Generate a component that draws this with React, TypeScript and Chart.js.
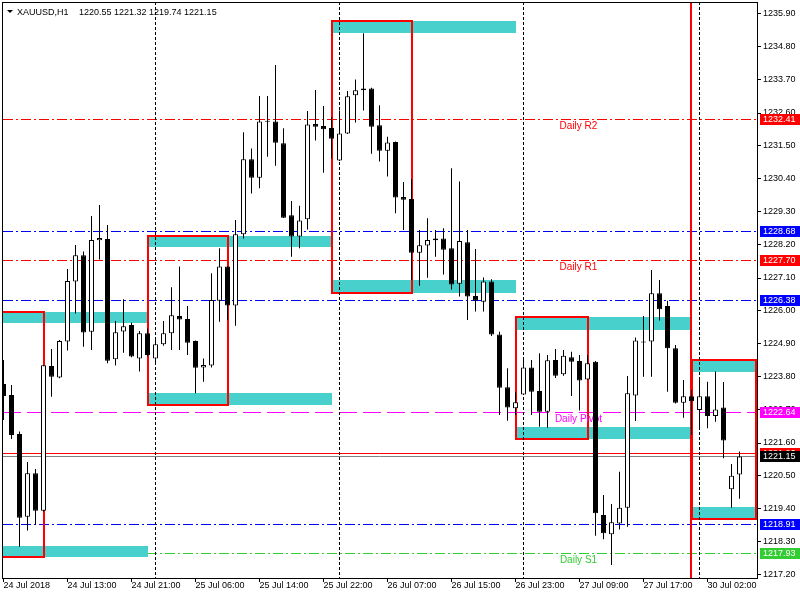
import React, { useEffect, useRef } from 'react';
import { Chart, registerables } from 'chart.js';

Chart.register(...registerables);

const FONT = '"Liberation Sans", Arial, sans-serif';

// ---- candle data (XAUUSD H1) ----
const candleOpen = [
  1223.57, 1223.20, 1221.90, 1219.14, 1220.59, 1219.34, 1224.17, 1223.78, 1224.98, 1226.98,
  1227.86, 1225.31, 1228.36, 1228.40, 1224.39, 1225.32, 1225.53, 1224.42, 1225.26, 1224.42,
  1224.89, 1225.26, 1225.83, 1225.73, 1225.00, 1224.12, 1224.18, 1226.34, 1227.48, 1226.18,
  1228.56, 1231.06, 1230.44, 1232.32, 1232.32, 1231.59, 1229.19, 1228.48, 1229.06, 1232.23,
  1232.17, 1232.10, 1231.02, 1231.92, 1233.19, 1233.36, 1233.42, 1232.19, 1231.34, 1231.63,
  1229.80, 1229.73, 1227.94, 1228.18, 1228.36, 1228.42, 1228.09, 1226.91, 1228.29, 1226.50,
  1226.31, 1226.98, 1225.22, 1223.46, 1222.76, 1223.22, 1224.12, 1223.33, 1222.64, 1224.37,
  1223.89, 1224.46, 1224.33, 1223.72, 1224.31, 1219.20, 1218.56, 1218.92, 1219.44, 1223.18,
  1224.95, 1224.98, 1226.59, 1226.17, 1224.76, 1222.94, 1223.16, 1222.70, 1223.16, 1222.50,
  1222.78, 1220.06, 1220.55,
];
const candleHigh = [
  1224.37, 1223.53, 1221.98, 1220.97, 1220.73, 1224.20, 1224.73, 1225.03, 1227.40, 1228.20,
  1227.98, 1229.17, 1229.53, 1228.87, 1225.67, 1226.39, 1225.61, 1225.33, 1225.42, 1225.09,
  1225.67, 1226.79, 1227.48, 1226.17, 1225.02, 1224.42, 1227.26, 1228.09, 1227.50, 1229.03,
  1231.96, 1231.42, 1233.17, 1233.17, 1234.20, 1232.09, 1229.67, 1229.51, 1232.67, 1233.37,
  1232.83, 1232.46, 1232.68, 1233.33, 1233.72, 1235.26, 1233.44, 1232.86, 1231.81, 1231.65,
  1230.30, 1230.40, 1228.70, 1229.09, 1228.70, 1228.76, 1230.76, 1230.32, 1228.70, 1228.07,
  1227.12, 1227.06, 1225.31, 1224.09, 1223.29, 1224.37, 1224.37, 1224.59, 1224.53, 1224.73,
  1224.70, 1224.64, 1224.53, 1224.53, 1224.33, 1219.87, 1219.57, 1220.64, 1223.83, 1225.12,
  1225.83, 1227.37, 1227.03, 1226.34, 1224.87, 1223.70, 1223.37, 1223.70, 1223.64, 1223.98,
  1223.63, 1220.90, 1221.32,
];
const candleLow = [
  1222.37, 1221.73, 1218.14, 1218.68, 1218.87, 1219.32, 1223.14, 1223.76, 1224.68, 1225.92,
  1224.81, 1224.70, 1227.72, 1224.26, 1224.18, 1224.61, 1224.46, 1223.98, 1224.48, 1224.20,
  1224.84, 1224.70, 1224.70, 1224.53, 1223.26, 1223.64, 1224.12, 1225.64, 1225.70, 1225.51,
  1228.42, 1229.92, 1230.09, 1231.14, 1230.84, 1229.10, 1227.81, 1228.09, 1228.72, 1231.68,
  1230.61, 1231.08, 1231.00, 1231.90, 1232.28, 1232.68, 1231.24, 1230.98, 1230.48, 1229.26,
  1228.70, 1227.03, 1226.84, 1227.11, 1227.81, 1227.22, 1226.72, 1226.48, 1225.70, 1225.98,
  1225.98, 1225.17, 1222.53, 1222.34, 1222.53, 1223.20, 1222.53, 1222.14, 1222.11, 1223.77,
  1223.84, 1223.17, 1222.68, 1223.70, 1218.51, 1218.39, 1217.53, 1218.72, 1218.81, 1222.33,
  1223.81, 1223.81, 1225.68, 1223.31, 1222.92, 1222.44, 1221.87, 1222.09, 1222.09, 1222.31,
  1221.09, 1219.44, 1219.74,
];
const candleClose = [
  1223.17, 1221.87, 1219.11, 1220.59, 1219.34, 1224.19, 1223.81, 1225.00, 1227.00, 1227.86,
  1225.28, 1228.37, 1228.43, 1224.34, 1225.29, 1225.49, 1224.48, 1225.26, 1224.53, 1224.89,
  1225.26, 1225.86, 1225.72, 1224.94, 1224.11, 1224.20, 1226.37, 1227.48, 1226.18, 1228.56,
  1231.06, 1230.44, 1232.32, 1232.31, 1231.61, 1229.11, 1228.48, 1229.02, 1232.22, 1232.14,
  1232.06, 1231.74, 1231.92, 1233.16, 1233.36, 1233.42, 1232.14, 1231.34, 1231.62, 1229.78,
  1229.71, 1227.94, 1228.19, 1228.37, 1228.42, 1228.04, 1226.88, 1228.33, 1226.48, 1226.34,
  1226.98, 1225.22, 1223.44, 1222.78, 1222.96, 1224.12, 1223.31, 1222.64, 1224.36, 1223.84,
  1224.51, 1224.31, 1223.68, 1224.26, 1219.26, 1218.59, 1218.96, 1219.44, 1223.26, 1225.02,
  1224.98, 1226.59, 1226.06, 1224.76, 1222.94, 1223.16, 1222.99, 1223.16, 1222.50, 1222.72,
  1221.68, 1220.51, 1221.15,
];

// ---- axes ----
const xTickIndex = [0, 8, 16, 24, 32, 40, 48, 56, 64, 72, 80, 88];
const xTickLabels = [
  '24 Jul 2018', '24 Jul 13:00', '24 Jul 21:00', '25 Jul 06:00', '25 Jul 14:00', '25 Jul 22:00',
  '26 Jul 07:00', '26 Jul 15:00', '26 Jul 23:00', '27 Jul 09:00', '27 Jul 17:00', '30 Jul 02:00',
];
const yTickValues = [
  1235.9, 1234.8, 1233.7, 1232.6, 1231.5, 1230.4, 1229.3, 1228.2, 1227.1, 1226.0,
  1224.9, 1223.8, 1222.7, 1221.6, 1220.5, 1219.4, 1218.3, 1217.2,
];
const daySeparators = [19, 42, 65, 87];

// ---- pivot levels ----
const levelValues = [1232.41, 1228.68, 1227.7, 1226.38, 1222.64, 1218.91, 1217.93];
const levelNames = ['Daily R2', '', 'Daily R1', '', 'Daily Pivot', '', 'Daily S1'];
const levelColors = ['#ff0000', '#0000ff', '#ff0000', '#0000ff', '#ff00ff', '#0000ff', '#32cd32'];
const levelDashed = [false, false, false, false, true, false, false];
const levelLabelIndex = 71.875;
const askPrice = 1221.26;
const bidPrice = 1221.15;

// ---- supply / demand zones ----
const zoneFrom = [-3, 18, 41, 64, 86];
const zoneBoxTo = [5, 28, 51, 73, 94];
const zoneBandTo = [18, 41, 64, 85.75, 94];
const zoneTop = [1225.97, 1228.5, 1235.67, 1225.79, 1224.37];
const zoneTopInner = [1225.59, 1228.12, 1235.28, 1225.37, 1223.98];
const zoneBottomInner = [1218.17, 1223.26, 1227.03, 1222.14, 1219.46];
const zoneBottom = [1217.79, 1222.87, 1226.61, 1221.74, 1219.08];
const sessionLine = 85.9;

export default function App() {
  const ref = useRef<HTMLCanvasElement>(null);

  useEffect(() => {
    document.body.style.margin = '0';
    const canvas = ref.current;
    if (!canvas) return;

    const overlay = {
      id: 'mt4overlay',
      beforeDraw(chart: any) {
        const ctx = chart.ctx;
        ctx.save();
        ctx.fillStyle = '#ffffff';
        ctx.fillRect(0, 0, chart.width, chart.height);
        ctx.restore();
      },
      beforeDatasetsDraw(chart: any) {
        const ctx = chart.ctx;
        const ca = chart.chartArea;
        const px = (v: number) => chart.scales.x.getPixelForValue(v);
        const py = (v: number) => chart.scales.y.getPixelForValue(v);
        ctx.save();
        ctx.beginPath();
        ctx.rect(ca.left, ca.top, ca.right - ca.left, ca.bottom - ca.top);
        ctx.clip();

        // level lines
        ctx.lineWidth = 1;
        levelValues.forEach((v, k) => {
          const y = Math.round(py(v)) + 0.5;
          ctx.strokeStyle = levelColors[k];
          ctx.setLineDash(levelDashed[k] ? [18, 6] : [10, 3, 2, 3]);
          ctx.beginPath();
          ctx.moveTo(ca.left + 1, y);
          ctx.lineTo(ca.right, y);
          ctx.stroke();
        });
        ctx.setLineDash([]);
        // ask / bid
        [[askPrice, '#ff0000'], [bidPrice, '#808080']].forEach(([v, c]: any) => {
          const y = Math.round(py(v)) + 0.5;
          ctx.strokeStyle = c;
          ctx.beginPath();
          ctx.moveTo(ca.left, y);
          ctx.lineTo(ca.right, y);
          ctx.stroke();
        });

        // cyan bands
        ctx.fillStyle = '#48d1cc';
        zoneFrom.forEach((f, k) => {
          const x1 = Math.round(px(f));
          const x2 = Math.round(px(zoneBandTo[k]));
          const yT = Math.round(py(zoneTop[k]));
          const yTi = Math.round(py(zoneTopInner[k]));
          const yBi = Math.round(py(zoneBottomInner[k]));
          const yB = Math.round(py(zoneBottom[k]));
          ctx.fillRect(x1, yT, x2 - x1, yTi - yT);
          ctx.fillRect(x1, yBi, x2 - x1, yB - yBi);
        });
        // red boxes
        ctx.strokeStyle = '#ff0000';
        ctx.lineWidth = 2;
        zoneFrom.forEach((f, k) => {
          const x1 = Math.round(px(f));
          const x2 = Math.round(px(zoneBoxTo[k]));
          const yT = Math.round(py(zoneTop[k]));
          const yB = Math.round(py(zoneBottom[k]));
          ctx.strokeRect(x1, yT, x2 - x1, yB - yT);
        });
        // session line
        const sx = Math.round(px(sessionLine));
        ctx.beginPath();
        ctx.moveTo(sx, ca.top);
        ctx.lineTo(sx, ca.bottom);
        ctx.stroke();

        // day separators
        ctx.lineWidth = 1;
        ctx.strokeStyle = '#000000';
        ctx.setLineDash([3, 2]);
        daySeparators.forEach((d) => {
          const x = Math.floor(px(d)) + 0.5;
          ctx.beginPath();
          ctx.moveTo(x, ca.top);
          ctx.lineTo(x, ca.bottom);
          ctx.stroke();
        });
        ctx.setLineDash([]);

        // level names
        ctx.font = `10px ${FONT}`;
        ctx.textAlign = 'center';
        ctx.textBaseline = 'alphabetic';
        levelValues.forEach((v, k) => {
          if (!levelNames[k]) return;
          ctx.fillStyle = levelColors[k];
          ctx.fillText(levelNames[k], px(levelLabelIndex), Math.round(py(v)) + 9.5);
        });
        ctx.restore();
      },
      afterDraw(chart: any) {
        const ctx = chart.ctx;
        const ca = chart.chartArea;
        const py = (v: number) => chart.scales.y.getPixelForValue(v);
        ctx.save();
        // frame
        ctx.strokeStyle = '#000000';
        ctx.lineWidth = 1;
        ctx.strokeRect(ca.left + 0.5, ca.top + 0.5, ca.right - ca.left, ca.bottom - ca.top);

        // title
        ctx.fillStyle = '#000000';
        ctx.beginPath();
        ctx.moveTo(7, 10);
        ctx.lineTo(13, 10);
        ctx.lineTo(10, 13);
        ctx.closePath();
        ctx.fill();
        ctx.font = `9px ${FONT}`;
        ctx.textAlign = 'left';
        ctx.textBaseline = 'alphabetic';
        const n = candleOpen.length - 1;
        ctx.fillText('XAUUSD,H1', 17, 15);
        ctx.fillText(
          [candleOpen[n], candleHigh[n], candleLow[n], candleClose[n]].map((v) => v.toFixed(2)).join(' '),
          79,
          15
        );

        // price boxes on the axis
        const box = (v: number, color: string) => {
          const y = Math.round(py(v));
          ctx.fillStyle = color;
          ctx.fillRect(ca.right + 3, y - 5, 800 - ca.right - 3, 11);
          ctx.fillStyle = '#ffffff';
          ctx.textBaseline = 'middle';
          ctx.fillText(v.toFixed(2), ca.right + 6, y + 0.5);
        };
        levelValues.forEach((v, k) => box(v, levelColors[k]));
        box(askPrice, '#ff0000');
        box(bidPrice, '#000000');
        ctx.restore();
      },
    };

    const chart = new Chart(canvas, {
      type: 'bar',
      data: {
        datasets: [
          {
            label: 'body',
            data: candleOpen.map((o, i) => ({ x: i, y: [o, candleClose[i]] })) as any,
            backgroundColor: candleOpen.map((o, i) => (candleClose[i] >= o ? '#ffffff' : '#000000')),
            borderColor: '#000000',
            borderWidth: 1,
            borderSkipped: false,
            barThickness: 5,
            minBarLength: 1,
            grouped: false,
            inflateAmount: 0,
          } as any,
          {
            label: 'wick',
            data: candleLow.map((l, i) => ({ x: i, y: [l, candleHigh[i]] })) as any,
            backgroundColor: '#000000',
            borderWidth: 0,
            barThickness: 1,
            minBarLength: 1,
            grouped: false,
            inflateAmount: 0,
          } as any,
        ],
      },
      options: {
        animation: false,
        responsive: false,
        maintainAspectRatio: false,
        devicePixelRatio: 1,
        events: [],
        layout: { padding: { left: 2, top: 2, right: 0, bottom: 0 } },
        plugins: { legend: { display: false }, tooltip: { enabled: false } },
        scales: {
          x: {
            type: 'linear',
            min: -0.1875,
            max: 94.1875,
            offset: false,
            bounds: 'data',
            afterBuildTicks: (s: any) => {
              s.ticks = xTickIndex.map((v) => ({ value: v }));
            },
            afterFit: (s: any) => {
              s.height = 22;
              s.paddingLeft = 0;
              s.paddingRight = 0;
            },
            grid: { display: true, drawOnChartArea: false, drawTicks: true, tickLength: 4, color: '#000000', offset: false },
            border: { display: true, color: '#000000' },
            ticks: {
              autoSkip: false,
              maxRotation: 0,
              minRotation: 0,
              align: 'start',
              padding: -1,
              color: '#000000',
              font: { family: FONT, size: 9, lineHeight: 1 },
              callback: (v: any) => {
                const k = xTickIndex.indexOf(Number(v));
                return k >= 0 ? xTickLabels[k] : '';
              },
            },
          } as any,
          y: {
            type: 'linear',
            position: 'right',
            min: 1217.1,
            max: 1236.3,
            beginAtZero: false,
            bounds: 'data',
            afterBuildTicks: (s: any) => {
              s.ticks = yTickValues.map((v) => ({ value: v }));
            },
            afterFit: (s: any) => {
              s.width = 43;
              s.paddingTop = 0;
              s.paddingBottom = 0;
            },
            grid: { display: true, drawOnChartArea: false, drawTicks: true, tickLength: 4, color: '#000000' },
            border: { display: true, color: '#000000' },
            ticks: {
              padding: 2,
              color: '#000000',
              font: { family: FONT, size: 9, lineHeight: 1 },
              callback: (v: any) => Number(v).toFixed(2),
            },
          } as any,
        },
      },
      plugins: [overlay],
    });

    return () => chart.destroy();
  }, []);

  return (
    <div style={{ position: 'absolute', left: 0, top: 0, width: 800, height: 600 }}>
      <canvas ref={ref} width={800} height={600} style={{ display: 'block', width: 800, height: 600 }} />
    </div>
  );
}
